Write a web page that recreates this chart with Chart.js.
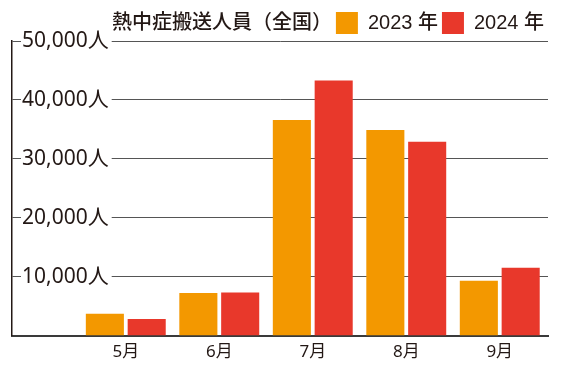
<!DOCTYPE html>
<html>
<head>
<meta charset="utf-8">
<script src="https://cdn.jsdelivr.net/npm/chart.js@4"></script>
<style>
  html, body { margin: 0; padding: 0; background: #fff; }
  #wrap { width: 567px; height: 369px; }
</style>
</head>
<body>
<div id="wrap"><canvas id="heatChart"></canvas></div>
<script>
const months = ["5月", "6月", "7月", "8月", "9月"];
const cases2023 = [3700, 7250, 36600, 34900, 9300];
const cases2024 = [2800, 7300, 43300, 32900, 11500];
const seriesNames = ["2023 年", "2024 年"];
const chartTitle = "熱中症搬送人員（全国）";

const ink = "#231815";

const ctx = document.getElementById("heatChart").getContext("2d");
new Chart(ctx, {
  type: "bar",
  data: {
    datasets: [
      {
        label: seriesNames[0],
        data: cases2023.map((v, i) => ({ x: i + 1, y: v })),
        backgroundColor: "#f39800",
        borderWidth: 0,
      },
      {
        label: seriesNames[1],
        data: cases2024.map((v, i) => ({ x: i + 1, y: v })),
        backgroundColor: "#e8382b",
        borderWidth: 0,
      },
    ],
  },
  options: {
    responsive: true,
    maintainAspectRatio: false,
    animation: false,
    barPercentage: 0.91,
    categoryPercentage: 0.895,
    layout: { padding: { left: 12, right: 19, top: 8, bottom: 1 } },
    scales: {
      x: {
        type: "linear",
        bounds: "data",
        offset: false,
        min: -0.217,
        max: 5.516,
        // one tick per month, left room on the left for the y labels
        afterBuildTicks: (scale) => {
          scale.ticks = months.map((_, i) => ({ value: i + 1 }));
        },
        grid: { display: true, offset: false, drawOnChartArea: false, drawTicks: false },
        border: { color: "#3a3a3a", width: 2 },
        ticks: {
          padding: 6,
          color: ink,
          font: { family: '"Noto Sans", "Noto Sans CJK JP"', size: 17 },
          callback: (v) => months[Math.round(v) - 1] || "",
        },
      },
      y: {
        min: 0,
        max: 50000,
        // labels sit inside the plot, so the axis itself takes no width
        afterFit: (scale) => {
          scale.width = 0;
        },
        grid: { color: "#555", lineWidth: 1, drawTicks: false },
        border: { color: ink, width: 1.5 },
        ticks: {
          stepSize: 10000,
          mirror: true,
          padding: 10,
          color: ink,
          font: { family: '"Noto Sans", "Noto Sans CJK JP"', size: 21 },
          showLabelBackdrop: true,
          backdropColor: "#fff",
          backdropPadding: { left: 1, right: 3, top: 0, bottom: 0 },
          callback: (v) => (v === 0 ? null : v.toLocaleString("en-US") + "人"),
        },
      },
    },
    plugins: {
      tooltip: { enabled: false },
      legend: {
        position: "top",
        align: "end",
        maxHeight: 33,
        onClick: () => {},
        labels: {
          boxWidth: 22,
          boxHeight: 22,
          padding: 4,
          color: ink,
          font: { family: '"Liberation Sans", "Noto Sans CJK JP"', size: 20, weight: "500" },
          // chart title rides along as the first (box-less) legend entry
          generateLabels(chart) {
            const items = Chart.defaults.plugins.legend.labels.generateLabels(chart);
            items.unshift({
              text: chartTitle,
              fillStyle: "rgba(0,0,0,0)",
              strokeStyle: "rgba(0,0,0,0)",
              lineWidth: 0,
              hidden: false,
              fontColor: ink,
            });
            return items;
          },
        },
      },
    },
  },
});
</script>
</body>
</html>
